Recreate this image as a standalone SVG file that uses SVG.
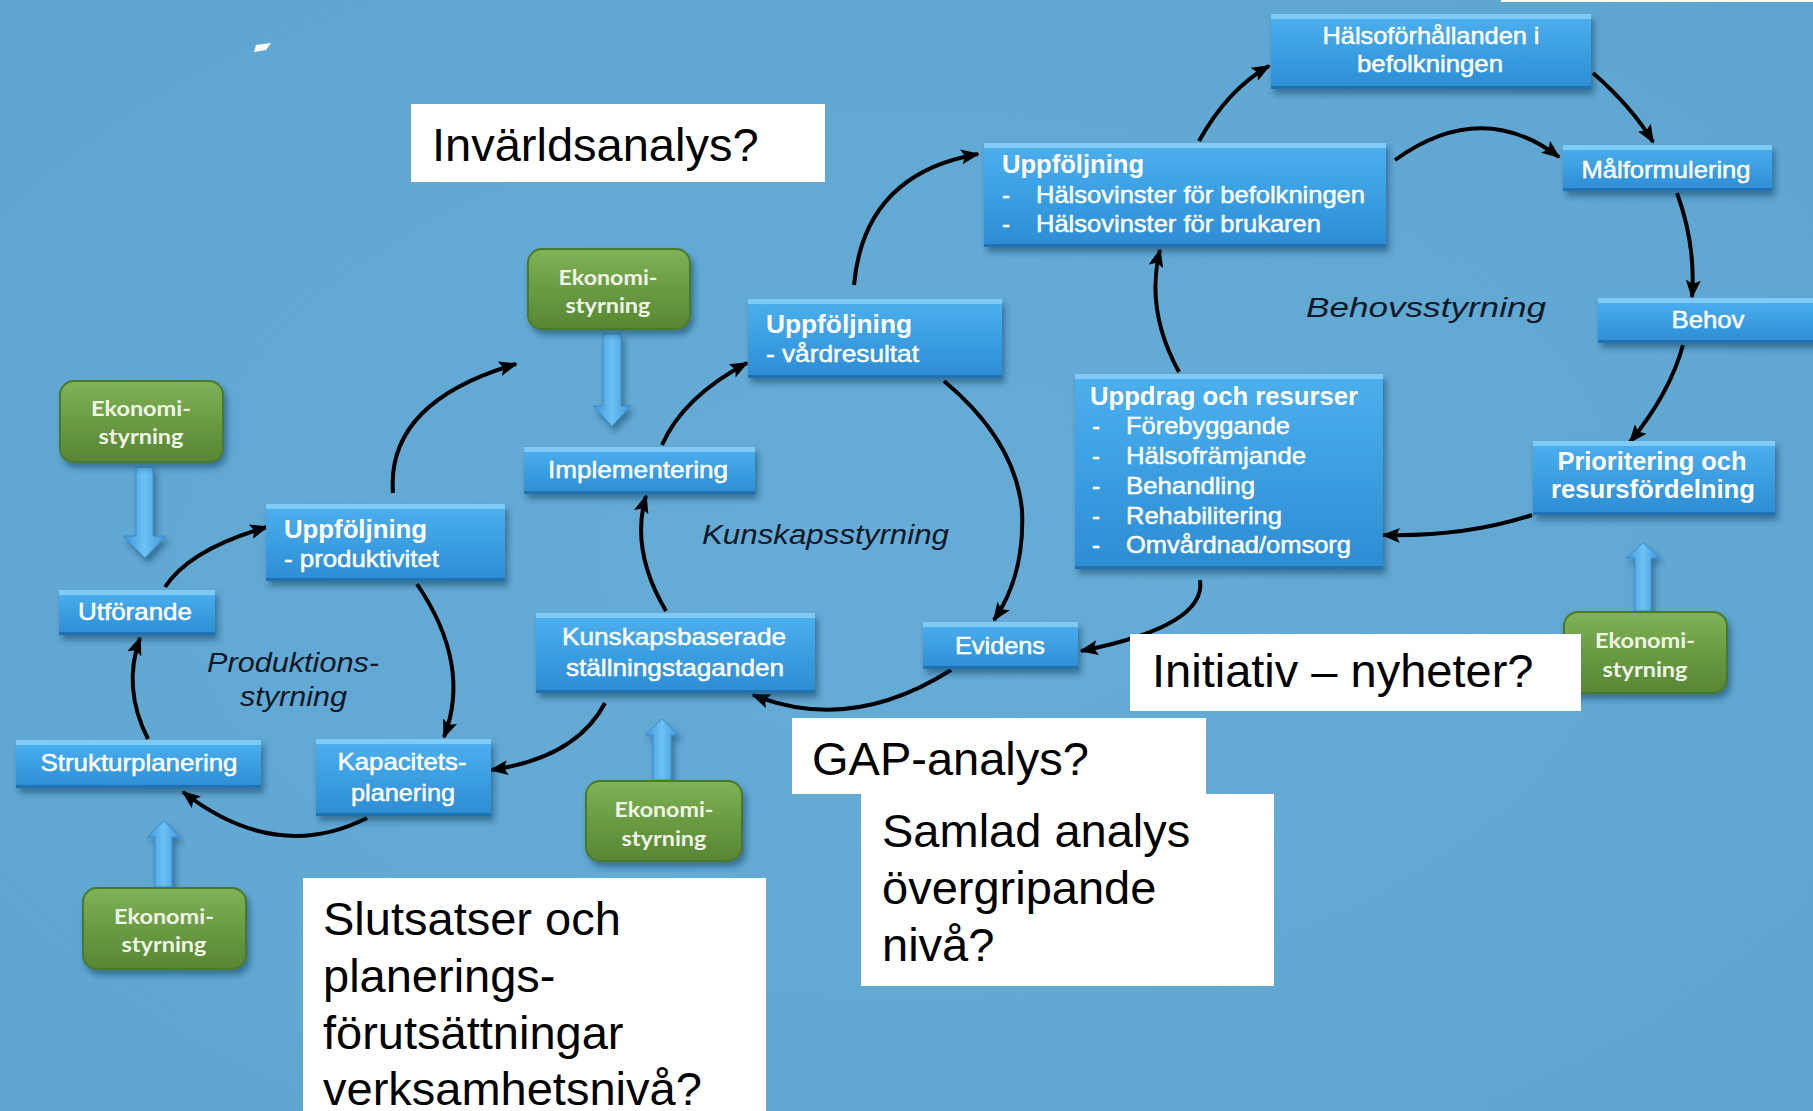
<svg xmlns="http://www.w3.org/2000/svg" width="1813" height="1111" viewBox="0 0 1813 1111">
<defs>
<style>
.nt{font-family:"Liberation Sans",Arial,sans-serif;font-size:24px;fill:#ffffff;stroke:#ffffff;stroke-width:0.5px;}
.nb{font-family:"Liberation Sans",Arial,sans-serif;font-size:25px;font-weight:bold;fill:#ffffff;}
.gt{font-family:Lato,"Open Sans",sans-serif;font-size:21px;font-weight:bold;fill:#eef4e6;}
.lab{font-family:"Liberation Sans",Arial,sans-serif;font-size:27px;font-style:italic;fill:#111827;}
.wt{font-family:"Liberation Sans",Arial,sans-serif;font-size:47px;fill:#000000;}
.wb{fill:#ffffff;}
.body{fill:url(#gb);}
.hi{fill:#86cdf7;opacity:0.9;}
.lo{fill:#1d6aa8;opacity:0.8;}
.gbody{fill:url(#gg);stroke:#4a7a2c;stroke-width:2;}
.conn{fill:none;stroke:#000000;stroke-width:4;marker-end:url(#ah);}
.ba{fill:url(#gba);stroke:#3b8ecd;stroke-width:1;}
</style>
<linearGradient id="gb" x1="0" y1="0" x2="0" y2="1">
<stop offset="0" stop-color="#4db0ee"/>
<stop offset="0.5" stop-color="#3b9fe2"/>
<stop offset="1" stop-color="#2d8cd3"/>
</linearGradient>
<linearGradient id="gg" x1="0" y1="0" x2="0" y2="1">
<stop offset="0" stop-color="#80b257"/>
<stop offset="0.5" stop-color="#6a9b43"/>
<stop offset="1" stop-color="#588634"/>
</linearGradient>
<linearGradient id="gba" x1="0" y1="0" x2="1" y2="0">
<stop offset="0" stop-color="#3f95d6"/>
<stop offset="0.5" stop-color="#6cc2f4"/>
<stop offset="1" stop-color="#3f95d6"/>
</linearGradient>
<radialGradient id="bg" cx="0.5" cy="0.5" r="0.7">
<stop offset="0" stop-color="#66acd6"/>
<stop offset="1" stop-color="#5ea6d1"/>
</radialGradient>
<filter id="sh" x="-10%" y="-10%" width="125%" height="135%">
<feDropShadow dx="3" dy="5" stdDeviation="3" flood-color="#0b2a48" flood-opacity="0.45"/>
</filter>
<marker id="ah" viewBox="0 0 20 16" refX="18" refY="8" markerWidth="19" markerHeight="15" markerUnits="userSpaceOnUse" orient="auto">
<path d="M0,0 L20,8 L0,16 L4,8 z" fill="#000000"/>
</marker>
</defs>

<rect x="0" y="0" width="1813" height="1111" fill="url(#bg)"/>
<rect x="1501" y="0" width="312" height="2" fill="#ffffff"/>
<polygon points="256,45 271,43 266,50 254,52" fill="#ffffff"/>

<g id="connectors">
<path class="conn" d="M1199,141 Q1228,89 1269,66"/>
<path class="conn" d="M1593,73 Q1632,107 1653,142"/>
<path class="conn" d="M1677,193 Q1696,245 1692,297"/>
<path class="conn" d="M1683,345 Q1670,393 1630,442"/>
<path class="conn" d="M1532,515 Q1465,537 1383,535"/>
<path class="conn" d="M1179,372 Q1145,310 1160,250"/>
<path class="conn" d="M1395,160 Q1481,98 1559,157"/>
<path class="conn" d="M854,285 Q864,174 978,154"/>
<path class="conn" d="M944,381 Q1015,440 1022,510 Q1025,575 994,620"/>
<path class="conn" d="M951,670 Q850,734 753,695"/>
<path class="conn" d="M1200,580 Q1207,626 1081,651"/>
<path class="conn" d="M666,611 Q630,550 646,496"/>
<path class="conn" d="M662,445 Q683,397 747,363"/>
<path class="conn" d="M393,493 Q386,402 516,364"/>
<path class="conn" d="M165,587 Q190,549 267,527"/>
<path class="conn" d="M417,584 Q472,665 444,737"/>
<path class="conn" d="M367,818 Q276,864 183,792"/>
<path class="conn" d="M148,739 Q122,688 140,638"/>
<path class="conn" d="M605,703 Q576,758 491,770"/>
</g>

<g id="block-arrows">
<polygon class="ba" filter="url(#sh)" points="603,334 621,334 621,406 631,406 612,426 593,406 603,406"/>
<polygon class="ba" filter="url(#sh)" points="136,467 153,467 153,536 166,536 145,558 123,536 136,536"/>
<polygon class="ba" filter="url(#sh)" points="155,887 172,887 172,837 180,837 164,821 147,837 155,837"/>
<polygon class="ba" filter="url(#sh)" points="653,780 671,780 671,735 679,735 662,719 645,735 653,735"/>
<polygon class="ba" filter="url(#sh)" points="1635,611 1651,611 1651,558 1660,558 1643,543 1626,558 1635,558"/>
</g>

<g id="lab-behov"><text class="lab" x="1306" y="317" textLength="240" lengthAdjust="spacingAndGlyphs">Behovsstyrning</text></g>
<g id="lab-kunskap"><text class="lab" x="702" y="544" textLength="247" lengthAdjust="spacingAndGlyphs">Kunskapsstyrning</text></g>
<g id="lab-produktion">
<text class="lab" x="207" y="672" textLength="172" lengthAdjust="spacingAndGlyphs">Produktions-</text>
<text class="lab" x="240" y="706" textLength="107" lengthAdjust="spacingAndGlyphs">styrning</text>
</g>

<g id="n-halsoforhallanden">
<rect class="body" filter="url(#sh)" x="1271" y="14" width="320" height="75"/>
<rect class="hi" x="1271" y="14" width="320" height="5"/>
<rect class="lo" x="1271" y="86" width="320" height="3"/>
<text class="nt" x="1431" y="44" text-anchor="middle" textLength="217" lengthAdjust="spacingAndGlyphs">Hälsoförhållanden i</text>
<text class="nt" x="1430" y="72" text-anchor="middle" textLength="146" lengthAdjust="spacingAndGlyphs">befolkningen</text>
</g>

<g id="n-uppfoljning-halsovinster">
<rect class="body" filter="url(#sh)" x="984" y="143" width="402" height="104"/>
<rect class="hi" x="984" y="143" width="402" height="5"/>
<rect class="lo" x="984" y="244" width="402" height="3"/>
<text class="nb" x="1002" y="173" textLength="142" lengthAdjust="spacingAndGlyphs">Uppföljning</text>
<text class="nt" x="1002" y="203">-</text>
<text class="nt" x="1036" y="203" textLength="329" lengthAdjust="spacingAndGlyphs">Hälsovinster för befolkningen</text>
<text class="nt" x="1002" y="232">-</text>
<text class="nt" x="1036" y="232" textLength="285" lengthAdjust="spacingAndGlyphs">Hälsovinster för brukaren</text>
</g>

<g id="n-malformulering">
<rect class="body" filter="url(#sh)" x="1563" y="145" width="209" height="46"/>
<rect class="hi" x="1563" y="145" width="209" height="5"/>
<rect class="lo" x="1563" y="188" width="209" height="3"/>
<text class="nt" x="1666" y="178" text-anchor="middle" textLength="169" lengthAdjust="spacingAndGlyphs">Målformulering</text>
</g>

<g id="n-behov">
<rect class="body" filter="url(#sh)" x="1598" y="298" width="236" height="45"/>
<rect class="hi" x="1598" y="298" width="236" height="5"/>
<rect class="lo" x="1598" y="340" width="236" height="3"/>
<text class="nt" x="1708" y="328" text-anchor="middle" textLength="73" lengthAdjust="spacingAndGlyphs">Behov</text>
</g>

<g id="n-prioritering">
<rect class="body" filter="url(#sh)" x="1533" y="441" width="242" height="74"/>
<rect class="hi" x="1533" y="441" width="242" height="5"/>
<rect class="lo" x="1533" y="512" width="242" height="3"/>
<text class="nb" x="1652" y="470" text-anchor="middle" textLength="189" lengthAdjust="spacingAndGlyphs">Prioritering och</text>
<text class="nb" x="1653" y="498" text-anchor="middle" textLength="204" lengthAdjust="spacingAndGlyphs">resursfördelning</text>
</g>

<g id="n-uppdrag">
<rect class="body" filter="url(#sh)" x="1075" y="374" width="308" height="195"/>
<rect class="hi" x="1075" y="374" width="308" height="5"/>
<rect class="lo" x="1075" y="566" width="308" height="3"/>
<text class="nb" x="1090" y="405" textLength="268" lengthAdjust="spacingAndGlyphs">Uppdrag och resurser</text>
<text class="nt" x="1092" y="434">-</text>
<text class="nt" x="1126" y="434" textLength="164" lengthAdjust="spacingAndGlyphs">Förebyggande</text>
<text class="nt" x="1092" y="464">-</text>
<text class="nt" x="1126" y="464" textLength="180" lengthAdjust="spacingAndGlyphs">Hälsofrämjande</text>
<text class="nt" x="1092" y="494">-</text>
<text class="nt" x="1126" y="494" textLength="129" lengthAdjust="spacingAndGlyphs">Behandling</text>
<text class="nt" x="1092" y="524">-</text>
<text class="nt" x="1126" y="524" textLength="156" lengthAdjust="spacingAndGlyphs">Rehabilitering</text>
<text class="nt" x="1092" y="553">-</text>
<text class="nt" x="1126" y="553" textLength="225" lengthAdjust="spacingAndGlyphs">Omvårdnad/omsorg</text>
</g>

<g id="n-uppfoljning-vardresultat">
<rect class="body" filter="url(#sh)" x="748" y="299" width="254" height="79"/>
<rect class="hi" x="748" y="299" width="254" height="5"/>
<rect class="lo" x="748" y="375" width="254" height="3"/>
<text class="nb" x="766" y="333" textLength="146" lengthAdjust="spacingAndGlyphs">Uppföljning</text>
<text class="nt" x="766" y="362" textLength="153" lengthAdjust="spacingAndGlyphs">- vårdresultat</text>
</g>

<g id="n-implementering">
<rect class="body" filter="url(#sh)" x="524" y="447" width="231" height="47"/>
<rect class="hi" x="524" y="447" width="231" height="5"/>
<rect class="lo" x="524" y="491" width="231" height="3"/>
<text class="nt" x="638" y="478" text-anchor="middle" textLength="180" lengthAdjust="spacingAndGlyphs">Implementering</text>
</g>

<g id="n-kunskapsbaserade">
<rect class="body" filter="url(#sh)" x="536" y="613" width="279" height="80"/>
<rect class="hi" x="536" y="613" width="279" height="5"/>
<rect class="lo" x="536" y="690" width="279" height="3"/>
<text class="nt" x="674" y="645" text-anchor="middle" textLength="224" lengthAdjust="spacingAndGlyphs">Kunskapsbaserade</text>
<text class="nt" x="675" y="676" text-anchor="middle" textLength="218" lengthAdjust="spacingAndGlyphs">ställningstaganden</text>
</g>

<g id="n-evidens">
<rect class="body" filter="url(#sh)" x="923" y="622" width="155" height="47"/>
<rect class="hi" x="923" y="622" width="155" height="5"/>
<rect class="lo" x="923" y="666" width="155" height="3"/>
<text class="nt" x="1000" y="654" text-anchor="middle" textLength="90" lengthAdjust="spacingAndGlyphs">Evidens</text>
</g>

<g id="n-uppfoljning-produktivitet">
<rect class="body" filter="url(#sh)" x="266" y="504" width="239" height="77"/>
<rect class="hi" x="266" y="504" width="239" height="5"/>
<rect class="lo" x="266" y="578" width="239" height="3"/>
<text class="nb" x="284" y="538" textLength="143" lengthAdjust="spacingAndGlyphs">Uppföljning</text>
<text class="nt" x="284" y="567" textLength="155" lengthAdjust="spacingAndGlyphs">- produktivitet</text>
</g>

<g id="n-utforande">
<rect class="body" filter="url(#sh)" x="59" y="590" width="156" height="45"/>
<rect class="hi" x="59" y="590" width="156" height="5"/>
<rect class="lo" x="59" y="632" width="156" height="3"/>
<text class="nt" x="135" y="620" text-anchor="middle" textLength="114" lengthAdjust="spacingAndGlyphs">Utförande</text>
</g>

<g id="n-strukturplanering">
<rect class="body" filter="url(#sh)" x="16" y="740" width="245" height="48"/>
<rect class="hi" x="16" y="740" width="245" height="5"/>
<rect class="lo" x="16" y="785" width="245" height="3"/>
<text class="nt" x="139" y="771" text-anchor="middle" textLength="197" lengthAdjust="spacingAndGlyphs">Strukturplanering</text>
</g>

<g id="n-kapacitetsplanering">
<rect class="body" filter="url(#sh)" x="316" y="739" width="175" height="77"/>
<rect class="hi" x="316" y="739" width="175" height="5"/>
<rect class="lo" x="316" y="813" width="175" height="3"/>
<text class="nt" x="402" y="770" text-anchor="middle" textLength="129" lengthAdjust="spacingAndGlyphs">Kapacitets-</text>
<text class="nt" x="403" y="801" text-anchor="middle" textLength="104" lengthAdjust="spacingAndGlyphs">planering</text>
</g>

<g id="g-ekonomi-1">
<rect class="gbody" filter="url(#sh)" x="528" y="249" width="162" height="80" rx="14"/>
<text class="gt" x="608" y="285" text-anchor="middle" textLength="99" lengthAdjust="spacingAndGlyphs">Ekonomi-</text>
<text class="gt" x="608" y="313" text-anchor="middle" textLength="85" lengthAdjust="spacingAndGlyphs">styrning</text>
</g>
<g id="g-ekonomi-2">
<rect class="gbody" filter="url(#sh)" x="60" y="381" width="163" height="81" rx="14"/>
<text class="gt" x="141" y="416" text-anchor="middle" textLength="100" lengthAdjust="spacingAndGlyphs">Ekonomi-</text>
<text class="gt" x="141" y="444" text-anchor="middle" textLength="85" lengthAdjust="spacingAndGlyphs">styrning</text>
</g>
<g id="g-ekonomi-3">
<rect class="gbody" filter="url(#sh)" x="83" y="888" width="163" height="81" rx="14"/>
<text class="gt" x="164" y="924" text-anchor="middle" textLength="100" lengthAdjust="spacingAndGlyphs">Ekonomi-</text>
<text class="gt" x="164" y="952" text-anchor="middle" textLength="85" lengthAdjust="spacingAndGlyphs">styrning</text>
</g>
<g id="g-ekonomi-4">
<rect class="gbody" filter="url(#sh)" x="586" y="781" width="156" height="80" rx="14"/>
<text class="gt" x="664" y="817" text-anchor="middle" textLength="99" lengthAdjust="spacingAndGlyphs">Ekonomi-</text>
<text class="gt" x="664" y="846" text-anchor="middle" textLength="85" lengthAdjust="spacingAndGlyphs">styrning</text>
</g>
<g id="g-ekonomi-5">
<rect class="gbody" filter="url(#sh)" x="1564" y="612" width="163" height="81" rx="14"/>
<text class="gt" x="1645" y="648" text-anchor="middle" textLength="100" lengthAdjust="spacingAndGlyphs">Ekonomi-</text>
<text class="gt" x="1645" y="677" text-anchor="middle" textLength="85" lengthAdjust="spacingAndGlyphs">styrning</text>
</g>

<g id="w-invarldsanalys">
<rect class="wb" x="411" y="104" width="414" height="78"/>
<text class="wt" x="432" y="161">Invärldsanalys?</text>
</g>
<g id="w-initiativ">
<rect class="wb" x="1130" y="634" width="451" height="77"/>
<text class="wt" x="1152" y="687">Initiativ – nyheter?</text>
</g>
<g id="w-gap">
<rect class="wb" x="792" y="718" width="414" height="76"/>
<text class="wt" x="812" y="775">GAP-analys?</text>
</g>
<g id="w-samlad">
<rect class="wb" x="861" y="794" width="413" height="192"/>
<text class="wt" x="882" y="847">Samlad analys</text>
<text class="wt" x="882" y="904">övergripande</text>
<text class="wt" x="882" y="961">nivå?</text>
</g>
<g id="w-slutsatser">
<rect class="wb" x="303" y="878" width="463" height="240"/>
<text class="wt" x="323" y="935">Slutsatser och</text>
<text class="wt" x="323" y="992">planerings-</text>
<text class="wt" x="323" y="1049">förutsättningar</text>
<text class="wt" x="323" y="1105">verksamhetsnivå?</text>
</g>
</svg>
